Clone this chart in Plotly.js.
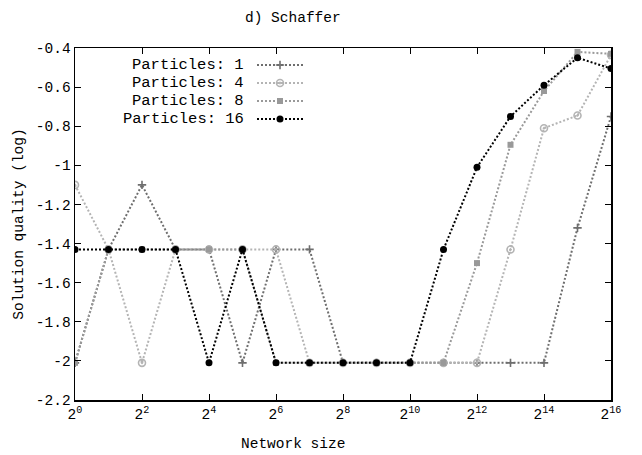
<!DOCTYPE html>
<html><head><meta charset="utf-8">
<script src="https://cdn.plot.ly/plotly-3.0.1.min.js"></script>
<style>html,body{margin:0;padding:0;background:#fff}#chart{width:642px;height:455px}</style>
</head><body><div id="chart"></div>
<script>
// Network sizes 2^0 .. 2^16
const exponents = [0,1,2,3,4,5,6,7,8,9,10,11,12,13,14,15,16];
const networkSize = exponents.map(e => Math.pow(2, e));
const seriesNames = ["Particles: 1", "Particles: 4", "Particles: 8", "Particles: 16"];
const p1  = [-2.01,-1.43,-1.10,-1.43,-1.43,-2.01,-1.43,-1.43,-2.01,-2.01,-2.01,-2.01,-2.01,-2.01,-2.01,-1.32,-0.75];
const p4  = [-1.10,-1.43,-2.01,-1.43,-1.43,-1.43,-1.43,-2.01,-2.01,-2.01,-2.01,-2.01,-2.01,-1.43,-0.81,-0.745,-0.435];
const p8  = [-2.01,-1.43,-1.43,-1.43,-1.43,-1.43,-2.01,-2.01,-2.01,-2.01,-2.01,-2.01,-1.50,-0.895,-0.62,-0.42,-0.43];
const p16 = [-1.43,-1.43,-1.43,-1.43,-2.01,-1.43,-2.01,-2.01,-2.01,-2.01,-2.01,-1.43,-1.01,-0.75,-0.59,-0.45,-0.505];
const xTickVals = [1,4,16,64,256,1024,4096,16384,65536];
const xTickText = ["2<sup>0</sup>","2<sup>2</sup>","2<sup>4</sup>","2<sup>6</sup>","2<sup>8</sup>","2<sup>10</sup>","2<sup>12</sup>","2<sup>14</sup>","2<sup>16</sup>"];
const yTickVals = [-0.4,-0.6,-0.8,-1,-1.2,-1.4,-1.6,-1.8,-2,-2.2];
const yTickText = ["-0.4","-0.6","-0.8","-1","-1.2","-1.4","-1.6","-1.8","-2","-2.2"];

const FONT = "'Liberation Mono', 'Courier New', Courier, monospace";
const styles = [
  {color:"#6e6e6e", symbol:"cross-thin-open", size:6, lw:1.6},
  {color:"#b4b4b4", symbol:"circle-open-dot", size:7, lw:1.6},
  {color:"#999999", symbol:"square", size:6, lw:0},
  {color:"#000000", symbol:"circle", size:7, lw:0}
];
const series = [p1,p4,p8,p16];
const traces = series.map((ys,i)=>({
  x: networkSize, y: ys, type:"scatter", mode:"lines+markers", name: seriesNames[i], showlegend:false,
  line:{color:styles[i].color, width:2, dash:"2px,2px"},
  marker:{symbol:styles[i].symbol, size:styles[i].size, color:styles[i].color,
          line:{color:styles[i].color, width:styles[i].lw}}
}));

// custom gnuplot-style legend (text right, sample on the right)
const L0 = 75, R0 = 611, T0 = 48, B0 = 400;
const px = v => (v - L0)/(R0 - L0);
const py = v => (B0 - v)/(B0 - T0);
const rows = [65,83,101,119];
const annotations = [];
series.forEach((ys,i)=>{
  const yy = py(rows[i]);
  traces.push({x:[px(257),px(303)], y:[yy,yy], xaxis:"x2", yaxis:"y2", mode:"lines", showlegend:false, hoverinfo:"skip",
    line:{color:styles[i].color, width:2, dash:"2px,2px"}});
  traces.push({x:[px(280)], y:[yy], xaxis:"x2", yaxis:"y2", mode:"markers", showlegend:false, hoverinfo:"skip",
    marker:{symbol:styles[i].symbol, size:styles[i].size, color:styles[i].color, line:{color:styles[i].color, width:styles[i].lw}}});
  annotations.push({text: seriesNames[i], xref:"paper", yref:"paper", x: px(245), y: yy, xanchor:"right", yanchor:"middle",
    borderpad:0, showarrow:false, font:{family:FONT, size:15.5, color:"#000"}});
});
annotations.push({text:"d) Schaffer", xref:"paper", yref:"paper", x: px(293), y: py(18), xanchor:"center", yanchor:"middle",
  showarrow:false, font:{family:FONT, size:14.5, color:"#000"}});
annotations.push({text:"Network size", xref:"paper", yref:"paper", x: px(293), y: py(444), xanchor:"center", yanchor:"middle",
  showarrow:false, font:{family:FONT, size:14.5, color:"#000"}});

const layout = {
  width:642, height:455,
  margin:{l:L0, r:642-R0, t:T0, b:455-B0},
  paper_bgcolor:"#fff", plot_bgcolor:"#fff",
  font:{family:FONT, size:14.5, color:"#000"},
  showlegend:false,
  xaxis:{type:"log", range:[0, Math.log10(65536)], tickvals:xTickVals, ticktext:xTickText,
    ticks:"inside", ticklen:6, tickwidth:1, tickcolor:"#000", mirror:"allticks", showline:true, linecolor:"#000", linewidth:1.5,
    showgrid:false, zeroline:false, tickfont:{family:FONT, size:14.5}},
  yaxis:{range:[-2.2,-0.4], tickvals:yTickVals, ticktext:yTickText,
    ticks:"inside", ticklen:6, tickwidth:1, tickcolor:"#000", mirror:"allticks", showline:true, linecolor:"#000", linewidth:1.5,
    showgrid:false, zeroline:false, tickfont:{family:FONT, size:14.5},
    title:{text:"Solution quality (log)", font:{family:FONT, size:14.5}, standoff:8}},
  xaxis2:{overlaying:"x", range:[0,1], visible:false, fixedrange:true},
  yaxis2:{overlaying:"y", range:[0,1], visible:false, fixedrange:true},
  annotations: annotations
};
Plotly.newPlot("chart", traces, layout, {displayModeBar:false, staticPlot:true});
</script></body></html>
